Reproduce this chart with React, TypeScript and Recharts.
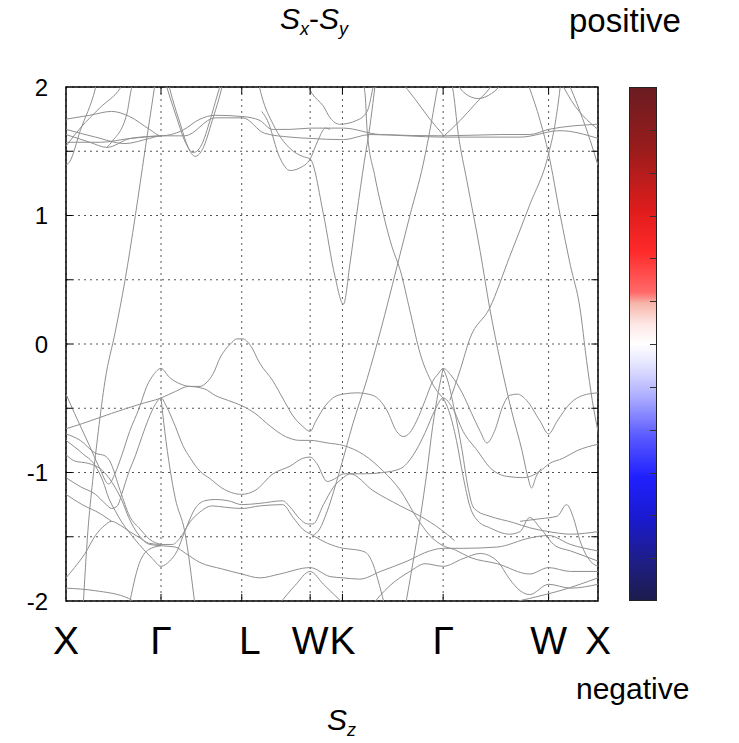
import React from 'react';
import { LineChart, Line, XAxis, YAxis, CartesianGrid, ReferenceArea, ReferenceLine } from 'recharts';

// k-path positions of high-symmetry points and their labels
const kTicks = [0, 1.0, 1.85, 2.57, 2.91, 3.97, 5.08, 5.6];
const kLabels = ['X', 'Γ', 'L', 'W', 'K', 'Γ', 'W', 'X'];
const eTicks = [-2, -1.5, -1, -0.5, 0, 0.5, 1, 1.5, 2];

type P = [number, number];

// ---- valence-like bands (k, E) ----
const bandA: P[] = [[0,-0.39],[0.09,-0.54],[0.24,-0.78],[0.35,-0.96],[0.45,-1.09],[0.52,-1.0],[0.59,-0.86],[0.67,-0.68],[0.77,-0.5],[0.85,-0.33],[0.92,-0.24],[1.0,-0.19],[1.09,-0.26],[1.2,-0.31],[1.31,-0.33],[1.41,-0.33],[1.48,-0.3],[1.55,-0.23],[1.62,-0.11],[1.73,0.0],[1.8,0.04],[1.86,0.04],[1.94,-0.01],[2.04,-0.15],[2.18,-0.29],[2.28,-0.42],[2.39,-0.56],[2.49,-0.64],[2.57,-0.68],[2.63,-0.6],[2.73,-0.48],[2.83,-0.41],[2.92,-0.39],[3.06,-0.38],[3.23,-0.4],[3.38,-0.52],[3.48,-0.68],[3.55,-0.72],[3.62,-0.69],[3.69,-0.6],[3.78,-0.44],[3.86,-0.29],[3.92,-0.23],[3.97,-0.19],[4.06,-0.25],[4.17,-0.38],[4.27,-0.54],[4.36,-0.68],[4.43,-0.77],[4.51,-0.68],[4.6,-0.48],[4.67,-0.4],[4.75,-0.39],[4.85,-0.44],[4.99,-0.6],[5.08,-0.7],[5.17,-0.6],[5.31,-0.46],[5.44,-0.4],[5.6,-0.38]];
const bandB: P[] = [[0,-1.04],[0.15,-1.11],[0.31,-1.17],[0.41,-1.24],[0.48,-1.28],[0.54,-1.26],[0.59,-1.16],[0.66,-1.0],[0.73,-0.87],[0.8,-0.72],[0.87,-0.58],[0.94,-0.47],[1.0,-0.42],[1.06,-0.49],[1.15,-0.64],[1.23,-0.79],[1.31,-0.89],[1.41,-0.99],[1.52,-1.05],[1.64,-1.12],[1.85,-1.17],[1.99,-1.14],[2.18,-1.01],[2.36,-0.95],[2.49,-0.89],[2.57,-0.88],[2.64,-0.93],[2.75,-1.07],[2.85,-1.04],[2.92,-1.01],[3.15,-1.01],[3.34,-1.0],[3.52,-0.97],[3.65,-0.87],[3.78,-0.69],[3.88,-0.52],[3.97,-0.42],[4.07,-0.5],[4.18,-0.68],[4.33,-0.83],[4.46,-0.96],[4.64,-1.03],[4.81,-1.04],[4.99,-0.99],[5.09,-0.93],[5.23,-0.89],[5.38,-0.83],[5.6,-0.78]];
const bandC: P[] = [[0,-0.66],[0.17,-0.62],[0.48,-0.54],[0.77,-0.47],[1.0,-0.42],[1.15,-0.37],[1.29,-0.33],[1.46,-0.35],[1.57,-0.4],[1.71,-0.44],[1.85,-0.48],[1.99,-0.54],[2.15,-0.64],[2.31,-0.72],[2.46,-0.75],[2.57,-0.75],[2.75,-0.77],[2.92,-0.79],[3.13,-0.86],[3.34,-0.99],[3.52,-1.14],[3.69,-1.35],[3.83,-1.49],[3.97,-1.57],[4.09,-1.6],[4.25,-1.66],[4.54,-1.71],[4.88,-1.79],[5.08,-1.74],[5.31,-1.77],[5.6,-1.77]];
const bandD: P[] = [[0,-1.82],[0.09,-1.74],[0.2,-1.63],[0.31,-1.49],[0.41,-1.41],[0.48,-1.38],[0.57,-1.41],[0.67,-1.46],[0.78,-1.51],[0.88,-1.56],[1.0,-1.57],[1.15,-1.58],[1.26,-1.63],[1.41,-1.7],[1.64,-1.75],[1.85,-1.79],[2.04,-1.82],[2.25,-1.79],[2.57,-1.74],[2.78,-1.81],[2.92,-1.82],[3.09,-1.83],[3.31,-1.77],[3.59,-1.69],[3.83,-1.61],[3.97,-1.59],[4.18,-1.59],[4.54,-1.58],[4.88,-1.51],[5.08,-1.49],[5.31,-1.56],[5.6,-1.61]];
const bandD1: P[] = [[0,-0.86],[0.09,-0.91],[0.24,-0.93],[0.36,-0.97],[0.45,-1.04],[0.52,-1.12],[0.59,-1.22],[0.66,-1.35],[0.77,-1.49],[0.87,-1.55],[1.0,-1.56],[1.12,-1.56],[1.2,-1.51],[1.31,-1.38],[1.39,-1.32],[1.54,-1.26],[1.67,-1.27],[1.85,-1.28],[2.04,-1.26],[2.28,-1.25],[2.39,-1.35],[2.49,-1.44],[2.6,-1.49],[2.75,-1.55],[2.92,-1.59],[3.04,-1.6],[3.15,-1.62],[3.23,-1.71],[3.3,-1.88],[3.36,-2.05]];
const bandF: P[] = [[0,-0.75],[0.17,-0.85],[0.31,-0.95],[0.39,-1.07],[0.45,-1.2],[0.52,-1.3],[0.59,-1.39],[0.66,-1.46],[0.77,-1.56],[0.91,-1.67],[1.0,-1.73],[1.09,-1.69],[1.17,-1.61],[1.25,-1.46],[1.36,-1.28],[1.46,-1.22],[1.57,-1.21],[1.71,-1.22],[1.85,-1.25],[2.04,-1.24],[2.28,-1.22],[2.36,-1.27],[2.46,-1.36],[2.54,-1.4],[2.6,-1.4],[2.71,-1.25],[2.81,-1.12],[2.92,-1.04],[2.99,-1.01],[3.23,-1.14],[3.52,-1.26],[3.73,-1.34],[3.94,-1.44],[4.09,-1.53]];
const bandX4: P[] = [[0,-0.7],[0.15,-0.75],[0.31,-0.85],[0.41,-0.87],[0.46,-0.91],[0.57,-1.14],[0.67,-1.34],[0.78,-1.44],[0.88,-1.52],[1.0,-1.56]];
const bandX3: P[] = [[0,-1.17],[0.17,-1.25],[0.36,-1.32],[0.48,-1.38]];
const bandE: P[] = [[0,-1.9],[0.31,-1.92],[0.66,-1.98],[0.78,-2.05]];
const bandG: P[] = [[0.66,-2.05],[0.77,-1.71],[0.87,-1.6],[1.0,-1.57]];
const bandS5: P[] = [[1.0,-0.42],[1.04,-0.68],[1.15,-1.2],[1.25,-1.46],[1.36,-2.05]];
const bandWH: P[] = [[2.25,-2.02],[2.41,-1.88],[2.57,-1.77],[2.71,-1.87],[2.92,-2.02]];
const bandF2: P[] = [[3.2,-2.05],[3.41,-1.88],[3.62,-1.77],[3.78,-1.71],[3.97,-1.73],[4.18,-1.67],[4.36,-1.63],[4.54,-1.69],[4.67,-1.83],[4.78,-1.92],[4.88,-1.95],[5.08,-1.87],[5.31,-1.9],[5.6,-1.87]];
const bandAR: P[] = [[3.97,-0.19],[4.02,-0.29],[4.09,-0.52],[4.17,-0.83],[4.23,-1.11],[4.28,-1.26],[4.33,-1.3],[4.46,-1.34],[4.71,-1.39],[4.88,-1.43],[5.08,-1.46],[5.31,-1.48],[5.6,-1.46]];
const bandBR: P[] = [[3.97,-0.42],[4.03,-0.52],[4.11,-0.75],[4.18,-1.03],[4.25,-1.26],[4.34,-1.38],[4.46,-1.43],[4.67,-1.48],[4.78,-1.46],[4.88,-1.35],[4.99,-1.43],[5.15,-1.57],[5.31,-1.61],[5.6,-1.69]];
const bandRW: P[] = [[4.78,-1.38],[4.99,-1.36],[5.17,-1.34],[5.27,-1.25],[5.34,-1.35],[5.41,-1.53],[5.52,-1.69],[5.6,-1.73]];
const bandAL: P[] = [[3.57,-2.05],[3.65,-1.71],[3.73,-1.35],[3.8,-0.99],[3.86,-0.64],[3.92,-0.37],[3.97,-0.19]];
const bandRB: P[] = [[4.46,-2.05],[4.88,-1.98],[5.2,-1.92],[5.6,-1.82]];

// ---- steep / conduction-like bands ----
const bandS4: P[] = [[0.18,-2.05],[0.23,-1.46],[0.28,-1.07],[0.34,-0.68],[0.41,-0.29],[0.52,0.1],[0.62,0.49],[0.73,1.0],[0.83,1.5],[0.93,1.99],[0.95,2.09]];
const bandG4: P[] = [[2.02,2.05],[2.06,1.93],[2.18,1.71],[2.36,1.52],[2.49,1.46],[2.57,1.44],[2.71,1.01],[2.83,0.53],[2.92,0.31],[2.99,0.63],[3.06,1.01],[3.14,1.42],[3.2,1.7],[3.24,1.93],[3.26,2.05]];
const bandG4b: P[] = [[2.06,1.81],[2.12,1.74],[2.25,1.45],[2.36,1.35],[2.46,1.37],[2.57,1.44],[2.65,1.58],[2.73,1.68],[2.78,1.67]];
const bandUK: P[] = [[2.52,2.05],[2.59,1.95],[2.71,1.85],[2.78,1.76],[2.88,1.71],[3.06,1.74],[3.17,1.81],[3.23,1.99],[3.25,2.06]];
const bandG5: P[] = [[3.12,2.05],[3.15,1.93],[3.17,1.66],[3.25,1.31],[3.34,1.01],[3.43,0.76],[3.52,0.57],[3.62,0.26],[3.73,-0.08],[3.83,-0.27],[3.91,-0.37],[3.97,-0.42]];
const bandG6: P[] = [[2.6,-1.49],[2.67,-1.44],[2.75,-1.3],[2.88,-0.99],[3.02,-0.62],[3.17,-0.27],[3.31,0.1],[3.48,0.59],[3.62,1.0],[3.76,1.4],[3.85,1.74],[3.91,1.99],[3.93,2.06]];
const bandG7: P[] = [[4.04,2.06],[4.07,1.99],[4.13,1.63],[4.22,1.27],[4.36,0.72],[4.46,0.28],[4.57,-0.13],[4.69,-0.52],[4.8,-0.83],[4.86,-1.03],[4.9,-1.12],[4.95,-1.03],[5.0,-0.97]];
const bandG8: P[] = [[4.04,-0.44],[4.15,-0.2],[4.25,0.04],[4.46,0.28],[4.67,0.68],[4.88,1.08],[5.08,1.48],[5.15,1.72],[5.2,1.99],[5.21,2.06]];
const bandG9: P[] = [[4.85,2.05],[4.88,1.99],[4.99,1.74],[5.08,1.48],[5.2,1.01],[5.31,0.61],[5.41,0.28],[5.48,-0.13],[5.54,-0.44],[5.6,-0.68]];

// ---- upper bands ----
const bandU1: P[] = [[0,1.75],[0.25,1.78],[0.48,1.81],[0.67,1.77],[0.88,1.67],[1.0,1.62],[1.22,1.66],[1.41,1.75],[1.57,1.78],[1.86,1.77],[2.04,1.74],[2.17,1.67],[2.36,1.67],[2.57,1.68],[2.92,1.68],[3.31,1.63],[3.98,1.62],[4.57,1.63],[4.88,1.63],[5.08,1.67],[5.6,1.71]];
const bandU2: P[] = [[0,1.67],[0.31,1.61],[0.62,1.56],[0.88,1.6],[1.0,1.62],[1.25,1.62],[1.57,1.76],[1.86,1.76],[2.09,1.64],[2.36,1.61],[2.57,1.6],[2.92,1.59],[3.2,1.63],[3.98,1.61],[4.78,1.61],[5.2,1.66],[5.6,1.6]];
const bandU3: P[] = [[0,1.63],[0.25,1.57],[0.43,1.53],[0.68,1.6],[1.0,1.62]];
const bandU4: P[] = [[0,1.57],[0.36,1.57],[0.68,1.6],[1.0,1.62]];
const bandP1: P[] = [[1.04,2.05],[1.09,1.93],[1.17,1.75],[1.25,1.58],[1.34,1.49],[1.42,1.54],[1.52,1.75],[1.59,1.93],[1.64,2.05]];
const bandP1b: P[] = [[1.07,2.05],[1.12,1.91],[1.2,1.72],[1.28,1.54],[1.36,1.46],[1.44,1.52],[1.54,1.74],[1.61,1.91],[1.66,2.05]];
const bandS1: P[] = [[0,1.39],[0.04,1.42],[0.15,1.66],[0.31,1.99],[0.33,2.05]];
const bandS2: P[] = [[0,1.54],[0.15,1.68],[0.36,1.84],[0.57,1.99],[0.62,2.05]];
const bandS3: P[] = [[0.43,1.53],[0.49,1.58],[0.64,1.79],[0.69,1.99],[0.72,2.05]];
const bandX1: P[] = [[3.52,2.05],[3.67,1.91],[3.83,1.75],[3.98,1.62]];
const bandX2: P[] = [[3.98,1.62],[4.15,1.74],[4.31,1.87],[4.46,1.99],[4.52,2.05]];
const bandTU: P[] = [[4.09,2.05],[4.2,1.95],[4.34,1.91],[4.48,1.95],[4.62,2.05]];
const bandR1: P[] = [[5.2,2.05],[5.36,1.85],[5.52,1.72],[5.6,1.67]];
const bandR3: P[] = [[5.28,2.05],[5.41,1.81],[5.52,1.58],[5.6,1.39]];

const bands: P[][] = [
  bandA, bandB, bandC, bandD, bandD1, bandF, bandX4, bandX3, bandE, bandG, bandS5, bandWH, bandF2,
  bandAR, bandBR, bandRW, bandAL, bandRB, bandS4, bandG4, bandG4b, bandUK, bandG5, bandG6, bandG7,
  bandG8, bandG9, bandU1, bandU2, bandU3, bandU4, bandP1, bandP1b, bandS1, bandS2, bandS3, bandX1,
  bandX2, bandTU, bandR1, bandR3,
];

const series = bands.map((b) => b.map(([k, e]) => ({ k, e })));

// inward frame tick lengths, in axis units
const K_MIN = 0;
const K_MAX = 5.6;
const TICK_K = 0.07;
const TICK_E = 0.055;

const FONT = '"Liberation Sans", Arial, Helvetica, sans-serif';

const XTick = (props: any) => {
  const { x, y, payload } = props;
  const i = kTicks.indexOf(payload.value);
  const label = i >= 0 ? kLabels[i] : '';
  const dx = label === 'L' ? 8 : 0;
  return (
    <text x={x + dx} y={y + 51} textAnchor="middle" fontSize={39} fontFamily={FONT} fill="#000">
      {label}
    </text>
  );
};

const abs = (l: number, t: number): React.CSSProperties => ({ position: 'absolute', left: l, top: t });

export default function App() {
  const cbTicks = [1, 2, 3, 4, 5, 6, 7, 8, 9, 10, 11];
  return (
    <div style={{ position: 'absolute', left: 0, top: 0, width: 739, height: 743, background: '#fff', fontFamily: FONT }}>
      <LineChart width={739} height={743} margin={{ top: 87, right: 141, bottom: 82, left: 6 }}>
        <CartesianGrid stroke="#555" strokeDasharray="2 4" strokeWidth={1} />
        <XAxis
          type="number"
          dataKey="k"
          domain={[K_MIN, K_MAX]}
          ticks={kTicks}
          allowDataOverflow
          height={60}
          tick={<XTick />}
          tickLine={false}
          axisLine={false}
          tickSize={0}
          interval={0}
        />
        <YAxis
          type="number"
          domain={[-2, 2]}
          ticks={eTicks}
          allowDataOverflow
          width={60}
          tickFormatter={(v: number) => (Number.isInteger(v) ? String(v) : '')}
          tick={{ fontSize: 24, fontFamily: FONT, fill: '#000' }}
          tickLine={false}
          axisLine={false}
          tickSize={0}
          tickMargin={18}
          interval={0}
        />
        {series.map((d, i) => (
          <Line
            key={i}
            data={d}
            dataKey="e"
            type="monotone"
            stroke="#8f8f8f"
            strokeWidth={1}
            dot={false}
            activeDot={false}
            isAnimationActive={false}
          />
        ))}
        {eTicks.slice(1, -1).map((v) => (
          <ReferenceLine key={'l' + v} segment={[{ x: K_MIN, y: v }, { x: K_MIN + TICK_K, y: v }]} stroke="#000" strokeWidth={1} ifOverflow="visible" />
        ))}
        {eTicks.slice(1, -1).map((v) => (
          <ReferenceLine key={'r' + v} segment={[{ x: K_MAX - TICK_K, y: v }, { x: K_MAX, y: v }]} stroke="#000" strokeWidth={1} ifOverflow="visible" />
        ))}
        {kTicks.slice(1, -1).map((v) => (
          <ReferenceLine key={'b' + v} segment={[{ x: v, y: -2 }, { x: v, y: -2 + TICK_E }]} stroke="#000" strokeWidth={1} ifOverflow="visible" />
        ))}
        {kTicks.slice(1, -1).map((v) => (
          <ReferenceLine key={'t' + v} segment={[{ x: v, y: 2 - TICK_E }, { x: v, y: 2 }]} stroke="#000" strokeWidth={1} ifOverflow="visible" />
        ))}
        <ReferenceArea x1={K_MIN} x2={K_MAX} y1={-2} y2={2} fill="none" stroke="#000" strokeWidth={1.5} ifOverflow="visible" />
      </LineChart>

      {/* colour bar */}
      <div
        style={{
          ...abs(629, 87),
          width: 26,
          height: 512,
          border: '1px solid #222',
          background:
            'linear-gradient(to bottom, #6a1c22 0%, #9a1c1c 12%, #e01c1c 24%, #ff2a2a 32%, #ff6a6a 40%, #f6b4a8 42%, #fde6e4 46%, #ffffff 50%, #e4e4ff 54%, #b0b0ff 60%, #5a5aff 68%, #2020ff 76%, #1a1ad0 84%, #1e1e8a 92%, #1c1c4c 100%)',
        }}
      />
      {cbTicks.map((t) => (
        <div key={t} style={{ ...abs(650, 87 + (t * 514) / 12), width: 6, height: 1, background: '#333' }} />
      ))}

      {/* titles */}
      <div style={{ ...abs(280, 2), fontSize: 30, lineHeight: '34px', whiteSpace: 'nowrap' }}>
        <i>S</i>
        <span style={{ fontSize: 18, fontStyle: 'italic', position: 'relative', top: 6 }}>x</span>
        <span>-</span>
        <i>S</i>
        <span style={{ fontSize: 18, fontStyle: 'italic', position: 'relative', top: 6 }}>y</span>
      </div>
      <div style={{ ...abs(569, 3), fontSize: 33, lineHeight: '36px', whiteSpace: 'nowrap' }}>positive</div>
      <div style={{ ...abs(576, 671), fontSize: 30, lineHeight: '36px', whiteSpace: 'nowrap' }}>negative</div>
      <div style={{ ...abs(327, 703), fontSize: 30, lineHeight: '34px', whiteSpace: 'nowrap' }}>
        <i>S</i>
        <span style={{ fontSize: 18, fontStyle: 'italic', position: 'relative', top: 6 }}>z</span>
      </div>
    </div>
  );
}
